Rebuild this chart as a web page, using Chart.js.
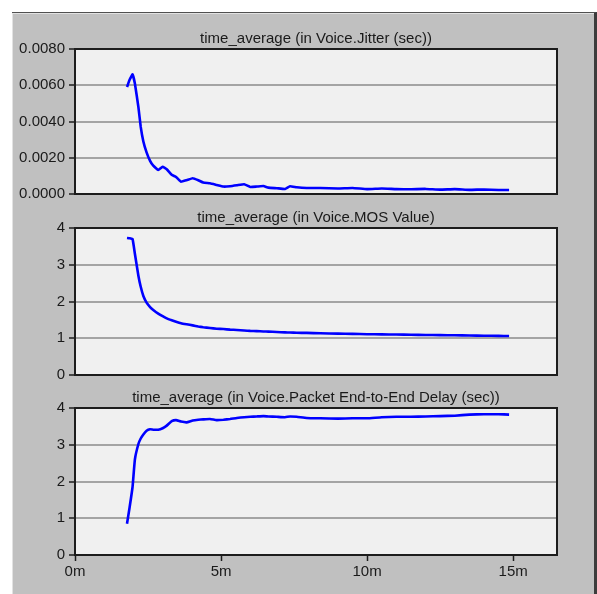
<!DOCTYPE html>
<html>
<head>
<meta charset="utf-8">
<title>Voice statistics</title>
<script src="https://cdn.jsdelivr.net/npm/chart.js@4.4.1/dist/chart.umd.min.js"></script>
<style>
  body { margin: 0; background: #ffffff; width: 597px; height: 594px; position: relative; overflow: hidden; }
  #panel {
    position: absolute; left: 12px; top: 12px; width: 582px; height: 582px;
    background: #c0c0c0;
    border-top: 1px solid #505050;
    border-right: 3px solid #3c3c3c;
    box-shadow: inset 1px 1px 0 #e2e2e2;
  }
  canvas { position: absolute; left: 0; }
</style>
</head>
<body>
<div id="panel"></div>
<canvas id="jitter-chart" style="top:0px"></canvas>
<canvas id="mos-chart" style="top:179px"></canvas>
<canvas id="delay-chart" style="top:359px"></canvas>

<script>
// time (minutes) at which the samples were taken
const sampleTimes = [1.78, 1.87, 1.97, 2.05, 2.17, 2.25, 2.34, 2.45, 2.57, 2.68,
  2.85, 3.0, 3.14, 3.31, 3.46, 3.63, 3.82, 4.03, 4.22, 4.39,
  4.62, 4.85, 5.08, 5.31, 5.54, 5.79, 6.0, 6.22, 6.45, 6.62,
  6.91, 7.19, 7.36, 7.59, 7.93, 8.4, 9.0, 9.5, 10.0, 10.5,
  11.0, 11.5, 12.0, 12.5, 13.0, 13.5, 14.0, 14.5, 14.86];

const jitterValues = [0.0059, 0.0063, 0.0066, 0.0061, 0.0048, 0.0037, 0.0029, 0.0023, 0.00183, 0.00156,
  0.00132, 0.0015, 0.00137, 0.00106, 0.00094, 0.00068, 0.00076, 0.00087, 0.00076, 0.00063,
  0.00059, 0.0005, 0.00041, 0.00043, 0.00048, 0.00054, 0.00039, 0.00041, 0.00044, 0.00035,
  0.00032, 0.00028, 0.00043, 0.00037, 0.00033, 0.00033, 0.0003, 0.00033, 0.00027, 0.0003,
  0.00027, 0.00026, 0.00028, 0.00024, 0.00027, 0.00023, 0.00025, 0.00022, 0.00022];

const mosValues = [3.73, 3.72, 3.7, 3.3, 2.7, 2.4, 2.15, 1.97, 1.85, 1.77,
  1.67, 1.6, 1.54, 1.49, 1.45, 1.41, 1.38, 1.35, 1.32, 1.3,
  1.28, 1.26, 1.25, 1.235, 1.225, 1.21, 1.2, 1.195, 1.185, 1.18,
  1.17, 1.16, 1.155, 1.15, 1.145, 1.135, 1.125, 1.12, 1.11, 1.105,
  1.1, 1.095, 1.09, 1.085, 1.08, 1.075, 1.07, 1.065, 1.06];

const delayValues = [0.85, 1.3, 1.85, 2.6, 3.02, 3.17, 3.28, 3.38, 3.42, 3.41,
  3.41, 3.45, 3.52, 3.64, 3.67, 3.63, 3.61, 3.66, 3.68, 3.69,
  3.7, 3.67, 3.68, 3.7, 3.73, 3.75, 3.76, 3.77, 3.78, 3.77,
  3.76, 3.75, 3.77, 3.76, 3.73, 3.72, 3.71, 3.72, 3.72, 3.75,
  3.76, 3.76, 3.77, 3.78, 3.79, 3.82, 3.83, 3.83, 3.82];

const chartTitles = [
  "time_average (in Voice.Jitter (sec))",
  "time_average (in Voice.MOS Value)",
  "time_average (in Voice.Packet End-to-End Delay (sec))",
];

const xTickLabels = ["0m", "5m", "10m", "15m"];

document.addEventListener("DOMContentLoaded", function () {
  Chart.defaults.font.family = "'Liberation Sans', Arial, sans-serif";
  Chart.defaults.font.size = 15;
  Chart.defaults.color = "#1a1a1a";

  // light plot background under the grid, dark frame over it
  const plotFrame = {
    id: "plotFrame",
    beforeDraw(chart) {
      const a = chart.chartArea;
      const ctx = chart.ctx;
      ctx.save();
      ctx.fillStyle = "#f0f0f0";
      ctx.fillRect(a.left, a.top, a.right - a.left, a.bottom - a.top);
      ctx.restore();
    },
    beforeDatasetsDraw(chart) {
      const a = chart.chartArea;
      const ctx = chart.ctx;
      ctx.save();
      ctx.strokeStyle = "#1c1c1c";
      ctx.lineWidth = 2;
      ctx.strokeRect(a.left, a.top, a.right - a.left, a.bottom - a.top);
      ctx.restore();
    },
  };

  function makeChart(canvasId, height, title, values, yMax, yStep, digits, showX) {
    const canvas = document.getElementById(canvasId);
    canvas.width = 597;
    canvas.height = height;
    canvas.style.width = "597px";
    canvas.style.height = height + "px";

    return new Chart(canvas.getContext("2d"), {
      type: "line",
      data: {
        datasets: [
          {
            data: sampleTimes.map((t, i) => ({ x: t, y: values[i] })),
            borderColor: "#0000ff",
            borderWidth: 2.6,
            pointRadius: 0,
            tension: 0.1,
            fill: false,
          },
        ],
      },
      options: {
        responsive: false,
        animation: false,
        layout: { padding: { left: 0, right: 40, top: 0, bottom: showX ? 11 : 7 } },
        scales: {
          x: {
            type: "linear",
            display: showX,
            min: 0,
            max: 16.5,
            border: { display: false },
            grid: { drawOnChartArea: false, drawTicks: true, tickLength: 6, tickColor: "#1c1c1c", tickWidth: 1.5 },
            ticks: {
              stepSize: 5,
              includeBounds: false,
              padding: 2,
              maxRotation: 0,
              callback: (v) => xTickLabels[v / 5],
            },
          },
          y: {
            min: 0,
            max: yMax,
            border: { display: false },
            afterFit: (scale) => { scale.width = 75; },
            grid: { color: "#a4a4a4", lineWidth: 2, tickLength: 6, tickColor: "#1c1c1c", tickWidth: 1.5 },
            ticks: {
              stepSize: yStep,
              padding: 4,
              callback: (v) => v.toFixed(digits),
            },
          },
        },
        plugins: {
          legend: { display: false },
          tooltip: { enabled: false },
          title: {
            display: true,
            text: title,
            fullSize: false,
            color: "#1a1a1a",
            font: { size: 15, weight: "normal" },
            padding: { top: 30, bottom: 1 },
          },
        },
      },
      plugins: [plotFrame],
    });
  }

  makeChart("jitter-chart", 207, chartTitles[0], jitterValues, 0.008, 0.002, 4, false);
  makeChart("mos-chart", 209, chartTitles[1], mosValues, 4, 1, 0, false);
  makeChart("delay-chart", 235, chartTitles[2], delayValues, 4, 1, 0, true);
});
</script>
</body>
</html>
